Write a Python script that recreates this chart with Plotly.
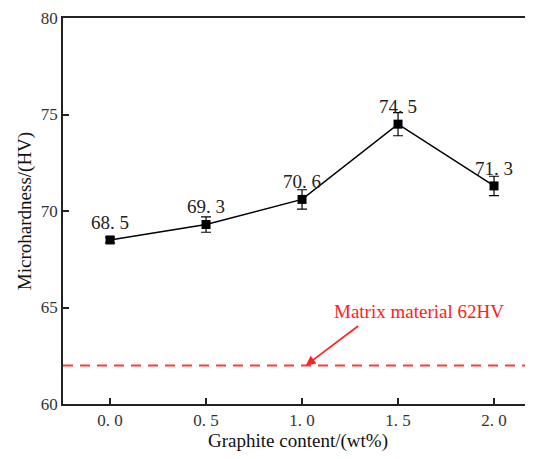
import plotly.graph_objects as go

graphite = [0.0, 0.5, 1.0, 1.5, 2.0]
hardness = [68.5, 69.3, 70.6, 74.5, 71.3]
errors = [0.15, 0.4, 0.5, 0.6, 0.5]
point_labels = ["68. 5", "69. 3", "70. 6", "74. 5", "71. 3"]
x_tickvals = [0.0, 0.5, 1.0, 1.5, 2.0]
x_ticktext = ["0. 0", "0. 5", "1. 0", "1. 5", "2. 0"]
y_tickvals = [60, 65, 70, 75, 80]
matrix_value = 62

SERIF = "Liberation Serif"

fig = go.Figure()

fig.add_trace(go.Scatter(
    x=[-0.245, 2.203], y=[matrix_value, matrix_value],
    mode="lines",
    line=dict(color="#ff3b3b", width=2, dash="10px,7px"),
    showlegend=False, hoverinfo="skip",
))

fig.add_trace(go.Scatter(
    x=graphite, y=hardness,
    mode="lines+markers+text",
    line=dict(color="black", width=1.5),
    marker=dict(symbol="square", size=9, color="black"),
    error_y=dict(type="data", array=errors, color="black", thickness=1.2, width=5),
    text=point_labels,
    textposition="top center",
    textfont=dict(family=SERIF, size=19, color="#222"),
    showlegend=False,
))

fig.add_annotation(
    x=1.02, y=matrix_value, xref="x", yref="y",
    ax=1.3, ay=64.1, axref="x", ayref="y",
    text="", showarrow=True,
    arrowhead=2, arrowsize=1.2, arrowwidth=1.6, arrowcolor="#ff2020",
)
fig.add_annotation(
    x=1.61, y=64.77, xref="x", yref="y",
    text="Matrix material 62HV", showarrow=False,
    font=dict(family=SERIF, size=19, color="#ff2020"),
)

fig.update_layout(
    width=525, height=451,
    margin=dict(l=55, r=0, t=10, b=55),
    paper_bgcolor="white", plot_bgcolor="white",
    font=dict(family=SERIF, size=17, color="#333"),
)
fig.update_xaxes(
    range=[-0.245, 2.203],
    tickvals=x_tickvals, ticktext=x_ticktext,
    ticks="inside", ticklen=6, tickwidth=1.5, tickcolor="#222",
    showline=True, linecolor="#222", linewidth=1.5, mirror=True,
    showgrid=False, zeroline=False,
    title=dict(text="Graphite content/(wt%)", font=dict(family=SERIF, size=19, color="#111"), standoff=4),
    tickfont=dict(family=SERIF, size=17, color="#333"),
)
fig.update_yaxes(
    range=[60, 80],
    tickvals=y_tickvals,
    ticks="inside", ticklen=6, tickwidth=1.5, tickcolor="#222",
    showline=True, linecolor="#222", linewidth=1.5, mirror=False,
    showgrid=False, zeroline=False,
    title=dict(text="Microhardness/(HV)", font=dict(family=SERIF, size=19, color="#111"), standoff=4),
    tickfont=dict(family=SERIF, size=17, color="#333"),
)

fig.write_html("out.html")
